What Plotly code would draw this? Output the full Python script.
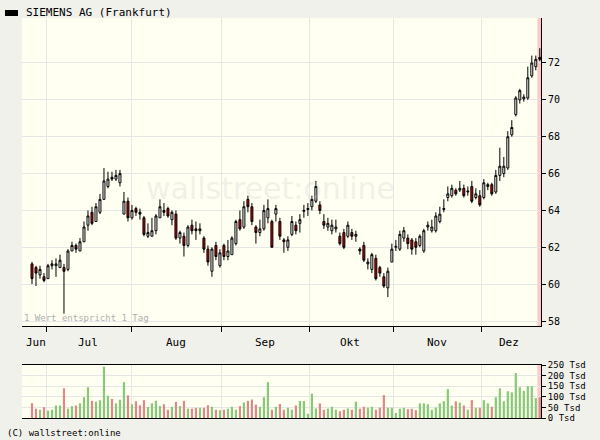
import plotly.graph_objects as go

# daily OHLC, one value per trading day (Jun - Dez)
opens = [61.1, 60.9, 60.5, 60.4, 60.3, 61.0, 61.0, 60.9, 60.9, 60.8,
         61.8, 62.1, 61.8, 62.3, 63.2, 63.9, 63.4, 63.9, 64.6, 65.3,
         65.8, 65.7, 65.5, 63.8, 64.5, 63.6, 64.1, 63.9, 63.6, 62.6,
         62.6, 62.9, 63.6, 64.0, 64.1, 63.5, 63.8, 62.5, 62.6, 62.1,
         63.2, 63.0, 62.9, 62.5, 61.9, 60.7, 62.1, 61.0, 62.1, 61.5,
         61.6, 62.2, 63.5, 63.1, 64.6, 64.2, 63.1, 62.8, 63.0, 63.6,
         63.4, 63.8, 63.4, 62.4, 62.0, 62.7, 63.2, 63.3, 63.95, 64.05,
         64.2, 64.5, 64.3, 63.4, 63.1, 62.9, 63.0, 62.6, 62.8, 62.6,
         62.8, 62.6, 61.9, 62.1, 61.1, 60.8, 61.4, 60.9, 60.4, 59.8,
         61.2, 62.0, 61.9, 62.5, 62.5, 62.4, 62.3, 62.1, 61.8, 63.1,
         62.9, 62.9, 63.4, 64.05, 64.7, 64.8, 65.1, 65.1, 65.2, 65.0,
         65.3, 64.7, 64.8, 64.7, 65.3, 65.4, 65.0, 65.9, 66.0, 66.3,
         68.1, 69.2, 70.0, 70.05, 70.1, 71.3, 71.8, 72.3]
closes = [60.3, 60.6, 60.8, 60.2, 61.0, 61.1, 61.1, 61.3, 60.7, 61.8,
          62.1, 61.9, 62.3, 63.1, 63.7, 63.3, 64.2, 64.6, 65.6, 65.7,
          65.7, 65.9, 66.0, 64.5, 63.6, 64.0, 63.9, 63.8, 62.7, 62.8,
          62.9, 63.7, 64.2, 63.9, 63.7, 63.9, 62.5, 62.8, 62.1, 63.1,
          62.9, 62.9, 63.0, 61.9, 61.2, 61.9, 61.5, 61.7, 61.5, 61.8,
          62.5, 63.4, 63.0, 64.2, 64.2, 63.4, 62.8, 63.0, 64.0, 64.1,
          62.0, 64.1, 62.6, 62.3, 62.4, 63.4, 62.9, 63.5, 64.0, 64.1,
          64.6, 65.3, 64.0, 63.2, 63.3, 63.2, 63.1, 62.2, 62.0, 63.2,
          62.6, 62.7, 61.8, 61.3, 61.2, 61.6, 60.3, 60.6, 59.9, 60.7,
          61.9, 62.05, 62.7, 62.9, 62.2, 61.9, 62.0, 62.6, 62.9, 63.2,
          63.1, 63.7, 63.8, 64.1, 64.9, 65.2, 64.9, 65.2, 64.8, 65.05,
          64.5, 64.9, 64.3, 65.5, 65.4, 64.9, 65.9, 66.4, 66.4, 68.0,
          68.5, 70.1, 70.5, 70.15, 71.2, 72.0, 72.2, 72.2]
highs = [61.2, 61.0, 61.0, 60.6, 61.1, 61.3, 61.4, 61.6, 61.1, 61.9,
         62.3, 62.2, 62.5, 63.4, 64.0, 64.2, 64.4, 64.9, 66.3, 66.1,
         66.1, 66.2, 66.2, 65.0, 64.7, 64.3, 64.2, 64.1, 63.7, 63.3,
         63.6, 63.8, 64.6, 64.4, 64.2, 64.0, 64.0, 62.9, 62.8, 63.2,
         63.5, 63.4, 63.3, 62.6, 62.1, 62.0, 62.3, 61.9, 62.2, 62.4,
         62.6, 63.5, 64.0, 64.5, 64.8, 64.4, 63.2, 63.5, 64.3, 64.6,
         63.5, 64.3, 63.6, 62.5, 62.6, 63.7, 63.4, 63.8, 64.3, 64.4,
         64.8, 65.6, 64.5, 63.8, 63.6, 63.5, 63.5, 62.8, 63.0, 63.4,
         63.0, 62.9, 62.0, 62.3, 61.4, 61.7, 61.6, 61.0, 60.6, 60.9,
         62.2, 62.4, 62.9, 63.1, 62.7, 62.5, 62.5, 62.7, 63.0, 63.4,
         63.5, 63.9, 64.2, 64.6, 65.3, 65.4, 65.2, 65.6, 65.4, 65.3,
         65.6, 65.2, 65.1, 65.7, 65.5, 65.5, 66.2, 67.4, 66.9, 68.3,
         68.9, 70.2, 70.6, 70.3, 71.8, 72.4, 72.4, 72.8]
lows = [60.0, 59.9, 60.3, 60.1, 60.3, 60.8, 60.4, 60.9, 58.4, 60.7,
        61.8, 61.7, 61.8, 62.3, 62.9, 63.2, 63.4, 63.8, 64.6, 65.2,
        65.6, 65.6, 65.3, 63.8, 63.4, 63.5, 63.7, 63.5, 62.6, 62.5,
        62.6, 62.7, 63.6, 63.7, 63.6, 63.2, 62.4, 62.2, 61.5, 62.0,
        62.7, 62.4, 62.7, 61.7, 61.0, 60.4, 61.3, 60.9, 61.3, 61.3,
        61.6, 62.1, 62.9, 63.0, 63.9, 63.2, 62.2, 62.6, 62.9, 63.3,
        62.0, 63.4, 62.4, 61.7, 61.8, 62.6, 62.7, 62.8, 63.6, 63.7,
        64.0, 64.4, 63.8, 63.0, 62.9, 62.7, 62.8, 62.1, 61.9, 62.5,
        62.4, 62.3, 61.6, 61.2, 60.8, 60.6, 60.2, 60.4, 59.8, 59.3,
        61.2, 61.8, 61.8, 62.3, 61.9, 61.6, 61.6, 62.0, 61.7, 62.9,
        62.8, 62.8, 63.3, 63.9, 64.5, 64.7, 64.8, 65.0, 64.7, 64.8,
        64.4, 64.6, 64.2, 64.6, 65.1, 64.8, 64.9, 65.6, 65.8, 66.2,
        68.0, 69.1, 69.8, 69.9, 70.0, 71.2, 71.6, 72.1]
volumes = [70, 44, 39, 51, 35, 39, 59, 59, 140, 44,
           56, 59, 69, 98, 145, 81, 77, 84, 242, 105,
           90, 69, 86, 169, 107, 65, 79, 60, 84, 52,
           69, 81, 56, 65, 39, 53, 76, 56, 81, 44,
           44, 48, 48, 48, 60, 53, 39, 37, 39, 44,
           53, 39, 56, 73, 81, 87, 63, 53, 98, 169,
           39, 53, 66, 39, 48, 39, 59, 80, 80, 20,
           115, 45, 69, 39, 44, 53, 39, 32, 39, 45,
           39, 77, 44, 53, 49, 53, 39, 49, 108, 49,
           49, 24, 44, 48, 42, 44, 37, 69, 69, 65,
           39, 49, 69, 79, 136, 59, 79, 73, 59, 39,
           84, 48, 48, 84, 69, 53, 98, 140, 79, 126,
           121, 212, 145, 128, 150, 150, 94, 98]

days = list(range(len(closes)))
month_names = ["Jun", "Jul", "Aug", "Sep", "Okt", "Nov", "Dez"]
month_mid = [1, 14, 36, 58.25, 79.5, 101.25, 119.25]
month_start = [3.75, 25, 47.5, 69.5, 90.5, 112.5]
price_ticks = [58, 60, 62, 64, 66, 68, 70, 72]
vol_ticks = [0, 50, 100, 150, 200, 250]

FONT = "DejaVu Sans Mono"
GRID = "#e6e6e6"

vol_colors = ["#e08888" if c < o else "#88c878" for o, c in zip(opens, closes)]

fig = go.Figure()
fig.add_trace(go.Candlestick(
    x=days, open=opens, high=highs, low=lows, close=closes,
    increasing=dict(line=dict(color="black", width=1), fillcolor="white"),
    decreasing=dict(line=dict(color="black", width=1), fillcolor="#cc0000"),
    whiskerwidth=0, showlegend=False, xaxis="x", yaxis="y"))
fig.add_trace(go.Bar(x=days, y=volumes, marker_color=vol_colors, width=0.55,
                     marker_line_width=0, showlegend=False, xaxis="x2", yaxis="y2"))

xr = [-2.5, 127.3]
fig.update_layout(
    width=600, height=440, margin=dict(l=0, r=0, t=0, b=0),
    paper_bgcolor="#f1f1ec", plot_bgcolor="#fffff2",
    font=dict(family=FONT, size=10, color="black"),
    xaxis=dict(domain=[22/600, 541/600], range=xr, rangeslider=dict(visible=False),
               tickvals=month_start, showticklabels=False, ticks="outside",
               ticklen=5, tickcolor="black", showgrid=True, gridcolor=GRID,
               showline=True, linecolor="black", zeroline=False, anchor="y",
               automargin=False),
    yaxis=dict(domain=[1-326/440, 1-18/440], range=[57.73, 74.44], side="right",
               tickvals=price_ticks, ticks="outside", ticklen=4, tickcolor="black",
               showgrid=True, gridcolor=GRID, showline=True, linecolor="black",
               zeroline=False, anchor="x", automargin=False),
    xaxis2=dict(domain=[22/600, 541/600], range=xr, tickvals=month_start,
                showticklabels=False, showgrid=True, gridcolor=GRID,
                showline=True, linecolor="black", mirror=True, zeroline=False,
                anchor="y2", automargin=False),
    yaxis2=dict(domain=[1-418/440, 1-365/440], range=[0, 250], side="right",
                tickvals=vol_ticks, ticktext=[f"{v} Tsd" for v in vol_ticks],
                ticks="outside", ticklen=4, tickcolor="black", showgrid=True,
                gridcolor=GRID, showline=True, linecolor="black", zeroline=False,
                anchor="x2", automargin=False, tickfont=dict(size=9)),
)

for name, pos in zip(month_names, month_mid):
    fig.add_annotation(x=pos, xref="x", y=1-342/440, yref="paper", text=name,
                       showarrow=False, yanchor="middle", font=dict(size=11))

# highlight of the last trading day in both panels
for yr in ["y", "y2"]:
    fig.add_shape(type="line", xref="x", yref=f"{yr} domain", x0=days[-1] - 0.1,
                  x1=days[-1] - 0.1, y0=0, y1=1, line=dict(color="#ffc8c8", width=4),
                  layer="below")

fig.add_shape(type="rect", xref="paper", yref="paper", x0=5/600, x1=18/600,
              y0=1-16/440, y1=1-10/440, fillcolor="black", line_width=0)
fig.add_annotation(x=24/600, y=1-13/440, xref="paper", yref="paper", xanchor="left",
                   yanchor="middle", text="SIEMENS AG (Frankfurt)", showarrow=False,
                   font=dict(size=11))
fig.add_annotation(x=22/600, y=1-318/440, xref="paper", yref="paper", xanchor="left",
                   yanchor="middle", text="1 Wert entspricht 1 Tag", showarrow=False,
                   font=dict(size=9, color="#b0b0b0"))
fig.add_annotation(x=5/600, y=1-433/440, xref="paper", yref="paper", xanchor="left",
                   yanchor="middle", text="(C) wallstreet:online", showarrow=False,
                   font=dict(size=9))
fig.add_annotation(x=270/600, y=1-188/440, xref="paper", yref="paper",
                   yanchor="middle", text="wallstreet:online", showarrow=False,
                   font=dict(family="DejaVu Sans", size=30, color="rgba(200,200,200,0.25)"))

fig.write_html("out.html", config={"displayModeBar": False},
               post_script="document.body.style.margin='0';")
